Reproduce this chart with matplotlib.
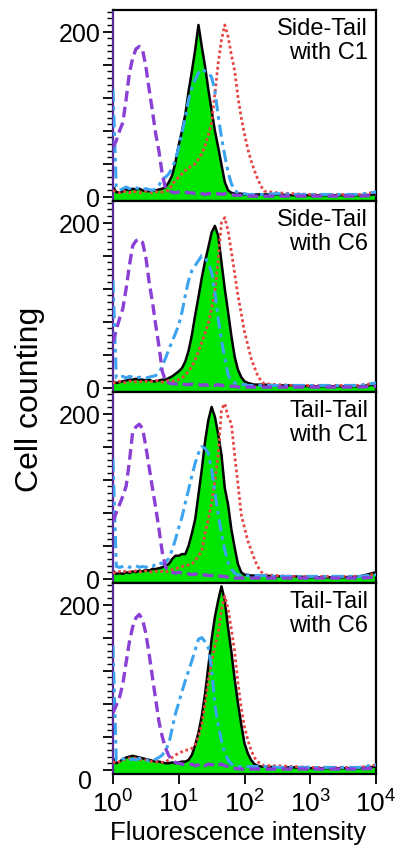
import matplotlib
matplotlib.use('Agg')
import numpy as np
import matplotlib.pyplot as plt
from matplotlib.ticker import MultipleLocator, LogLocator, NullFormatter

plt.rcParams['font.family'] = ['Liberation Sans', 'DejaVu Sans']
plt.rcParams['mathtext.fontset'] = 'custom'
plt.rcParams['mathtext.rm'] = 'Liberation Sans'

# histogram bin centres, log10(fluorescence)
log_fl = [0.00, 0.05, 0.10, 0.15, 0.20, 0.25, 0.30, 0.35, 0.40, 0.45,
          0.50, 0.55, 0.60, 0.65, 0.70, 0.75, 0.80, 0.85, 0.90, 0.95,
          1.00, 1.05, 1.10, 1.15, 1.20, 1.25, 1.30, 1.35, 1.40, 1.45,
          1.50, 1.55, 1.60, 1.65, 1.70, 1.75, 1.80, 1.85, 1.90, 1.95,
          2.00, 2.05, 2.10, 2.15, 2.20, 2.25, 2.30,
          2.50, 2.75, 3.00, 3.25, 3.50, 3.75, 4.00]

panel_labels = ["Side-Tail\nwith C1", "Side-Tail\nwith C6",
                "Tail-Tail\nwith C1", "Tail-Tail\nwith C6"]

# Side-Tail with C1
p1_purple = [60, 68, 80, 90, 118, 150, 168, 179, 182, 178,
             158, 130, 104, 76, 55, 27, 10, 7, 6, 5,
             6, 7, 6, 5, 5, 4, 5, 4, 3, 4,
             4, 3, 4, 3, 4, 3, 3, 2, 2, 2,
             2, 1, 1, 1, 1, 1, 1,
             1, 1, 1, 1, 1, 1, 2]
p1_green = [12, 6, 5, 7, 9, 8, 10, 9, 10, 8,
            7, 7, 8, 8, 9, 10, 12, 18, 26, 42,
            63, 80, 100, 128, 152, 178, 208, 182, 158, 130,
            104, 80, 60, 39, 18, 8, 5, 4, 4, 4,
            3, 3, 3, 3, 3, 3, 3,
            3, 2, 2, 2, 2, 2, 3]
p1_blue = [130, 12, 8, 10, 12, 10, 12, 11, 10, 9,
           10, 9, 8, 10, 14, 22, 24, 28, 35, 45,
           60, 78, 96, 118, 132, 142, 150, 155, 152, 150,
           145, 128, 98, 72, 50, 30, 16, 8, 5, 4,
           4, 3, 3, 3, 3, 3, 3,
           4, 3, 3, 3, 3, 3, 6]
p1_red = [8, 6, 5, 7, 6, 5, 7, 6, 5, 6,
          7, 6, 5, 6, 7, 6, 7, 8, 15, 20,
          24, 28, 32, 35, 38, 40, 46, 52, 62, 75,
          90, 125, 162, 190, 208, 194, 172, 153, 121, 96,
          76, 58, 44, 32, 22, 13, 7,
          5, 4, 3, 3, 3, 3, 6]

# Side-Tail with C6
p2_purple = [55, 70, 84, 96, 120, 148, 172, 178, 180, 176,
             158, 128, 104, 76, 50, 20, 8, 6, 5, 5,
             4, 5, 4, 4, 5, 4, 4, 3, 4, 3,
             4, 3, 4, 3, 3, 2, 2, 2, 1, 1,
             1, 1, 1, 1, 1, 1, 1,
             1, 1, 1, 1, 1, 1, 2]
p2_green = [8, 6, 7, 8, 9, 10, 10, 11, 10, 10,
            9, 10, 8, 8, 9, 10, 10, 12, 14, 17,
            20, 24, 32, 45, 64, 88, 110, 133, 153, 170,
            188, 196, 184, 152, 120, 92, 63, 38, 22, 13,
            8, 6, 5, 4, 4, 4, 4,
            3, 3, 2, 2, 2, 2, 4]
p2_blue = [130, 12, 13, 14, 12, 14, 13, 12, 13, 12,
           12, 13, 14, 15, 18, 27, 36, 47, 56, 66,
           76, 92, 112, 130, 142, 148, 154, 160, 158, 150,
           140, 115, 84, 57, 36, 16, 8, 6, 5, 4,
           4, 3, 3, 3, 3, 3, 3,
           3, 3, 3, 3, 3, 3, 6]
p2_red = [6, 7, 8, 6, 7, 8, 9, 7, 8, 7,
          8, 7, 8, 9, 8, 7, 8, 9, 8, 9,
          10, 12, 16, 20, 26, 34, 44, 55, 66, 78,
          96, 118, 155, 200, 206, 190, 165, 139, 112, 90,
          68, 52, 36, 25, 15, 9, 5,
          4, 3, 3, 3, 3, 3, 6]

# Tail-Tail with C1
p3_purple = [70, 80, 90, 100, 112, 142, 178, 184, 187, 182,
             160, 135, 110, 86, 60, 32, 14, 10, 8, 7,
             8, 7, 6, 6, 5, 6, 5, 4, 5, 4,
             4, 5, 4, 3, 3, 2, 2, 1, 1, 1,
             1, 1, 1, 1, 1, 1, 1,
             1, 1, 1, 1, 1, 1, 2]
p3_green = [10, 6, 7, 6, 8, 7, 9, 8, 10, 9,
            11, 10, 12, 12, 13, 14, 16, 18, 24, 28,
            28, 30, 30, 40, 55, 72, 102, 132, 166, 192,
            208, 196, 175, 150, 110, 90, 60, 38, 18, 8,
            5, 5, 4, 4, 4, 4, 4,
            3, 3, 2, 2, 2, 3, 8]
p3_blue = [145, 15, 14, 15, 16, 14, 15, 16, 14, 15,
           14, 16, 15, 18, 20, 18, 20, 25, 35, 48,
           62, 75, 92, 108, 125, 140, 152, 160, 158, 152,
           132, 105, 78, 55, 35, 20, 12, 7, 5, 4,
           4, 4, 4, 4, 4, 4, 4,
           3, 3, 3, 3, 3, 3, 5]
p3_red = [8, 7, 9, 8, 10, 9, 8, 10, 9, 8,
          10, 9, 8, 9, 10, 9, 8, 10, 11, 12,
          14, 15, 16, 17, 18, 22, 28, 34, 55, 72,
          92, 118, 150, 205, 212, 196, 188, 150, 115, 78,
          62, 46, 35, 24, 15, 9, 5,
          4, 3, 3, 3, 3, 3, 6]

# Tail-Tail with C6
p4_purple = [69, 78, 88, 104, 130, 155, 173, 184, 188, 182,
             165, 140, 112, 85, 58, 40, 26, 17, 12, 9,
             8, 7, 6, 6, 7, 5, 6, 8, 5, 7,
             6, 8, 6, 7, 5, 4, 3, 2, 1, 1,
             1, 1, 1, 1, 1, 1, 1,
             1, 1, 1, 1, 1, 1, 2]
p4_green = [14, 8, 10, 13, 15, 16, 17, 16, 15, 14,
            13, 12, 11, 10, 10, 9, 8, 8, 9, 8,
            9, 10, 10, 12, 18, 30, 45, 65, 92, 125,
            158, 185, 205, 222, 205, 172, 143, 110, 81, 55,
            32, 20, 12, 7, 5, 4, 4,
            3, 3, 2, 2, 2, 2, 4]
p4_blue = [150, 12, 11, 13, 14, 12, 13, 12, 14, 13,
           12, 11, 12, 13, 15, 18, 24, 32, 50, 68,
           81, 95, 108, 120, 132, 145, 158, 160, 155, 148,
           122, 78, 55, 35, 20, 12, 7, 5, 4, 4,
           4, 4, 4, 4, 4, 4, 4,
           3, 3, 3, 3, 3, 3, 6]
p4_red = [10, 8, 10, 12, 13, 14, 15, 14, 13, 12,
          12, 11, 10, 10, 9, 9, 10, 12, 15, 18,
          20, 22, 24, 24, 26, 30, 40, 55, 80, 108,
          130, 150, 165, 195, 210, 195, 170, 143, 105, 75,
          52, 36, 24, 15, 10, 7, 5,
          5, 4, 3, 3, 3, 3, 6]

panels = [(p1_green, p1_blue, p1_purple, p1_red),
          (p2_green, p2_blue, p2_purple, p2_red),
          (p3_green, p3_blue, p3_purple, p3_red),
          (p4_green, p4_blue, p4_purple, p4_red)]

x = 10 ** np.array(log_fl)

fig, axes = plt.subplots(4, 1, figsize=(3.95, 8.54), dpi=100, sharex=True)
fig.subplots_adjust(left=0.286, right=0.952, top=0.987, bottom=0.0925, hspace=0)

for i, (ax, lab, (g, b, p, r)) in enumerate(zip(axes, panel_labels, panels)):
    ax.fill_between(x, g, -10, color='#00e600', lw=0, zorder=1)
    ax.plot(x, g, color='black', lw=1.8, zorder=2)
    ax.plot(x, r, color='#e84545', lw=2.0, ls=(0, (1, 1)), zorder=3)
    ax.plot(x, b, color='#3ba3f0', lw=2.2, ls=(0, (4, 1.6, 1.2, 1.6)), zorder=4)
    ax.plot(x, p, color='#8a3fd6', lw=2.4, ls=(0, (3.2, 1.6)), zorder=5)

    ax.set_xscale('log')
    ax.set_xlim(1, 1e4)
    ax.set_ylim(-5, 226)

    for s in ax.spines.values():
        s.set_linewidth(1.6)
    ax.spines['left'].set_color('#5a2a9a')

    ax.yaxis.set_minor_locator(MultipleLocator(8))
    ax.set_yticks([0, 40, 80, 120, 160, 200], ['0', '', '', '', '', '200'])
    ax.tick_params(axis='y', which='major', length=7, width=1.3, labelsize=18, pad=2)
    ax.tick_params(axis='y', which='minor', length=4, width=1)

    ax.text(0.97, 0.965, lab, transform=ax.transAxes, ha='right', va='top',
            fontsize=17, linespacing=1.15, multialignment='right', zorder=6)

    if i < 3:
        ax.tick_params(axis='x', which='both', bottom=False, labelbottom=False)

ax = axes[-1]
# the bottom panel's "0" sits a little below and left of its tick in the original
ax.set_yticks([0, 40, 80, 120, 160, 200], ['', '', '', '', '', '200'])
ax.annotate('0', xy=(0, 0), xycoords=('axes fraction', 'data'), xytext=(-15, -8),
            textcoords='offset points', ha='right', va='center', fontsize=18)

ax.set_xticks([1, 10, 100, 1000, 10000],
              [r'$\mathregular{10^{0}}$', r'$\mathregular{10^{1}}$', r'$\mathregular{10^{2}}$',
               r'$\mathregular{10^{3}}$', r'$\mathregular{10^{4}}$'])
ax.xaxis.set_minor_locator(LogLocator(base=10, subs=np.arange(2, 10)))
ax.xaxis.set_minor_formatter(NullFormatter())
ax.tick_params(axis='x', which='major', length=7, width=1.3, labelsize=19, pad=4)
ax.tick_params(axis='x', which='minor', length=5, width=1)

fig.text(0.076, 0.532, 'Cell counting', rotation=90, fontsize=23, ha='center', va='center')
fig.text(0.603, 0.0246, 'Fluorescence intensity', fontsize=18.5, ha='center', va='center')

fig.savefig('out.png', dpi=100)
